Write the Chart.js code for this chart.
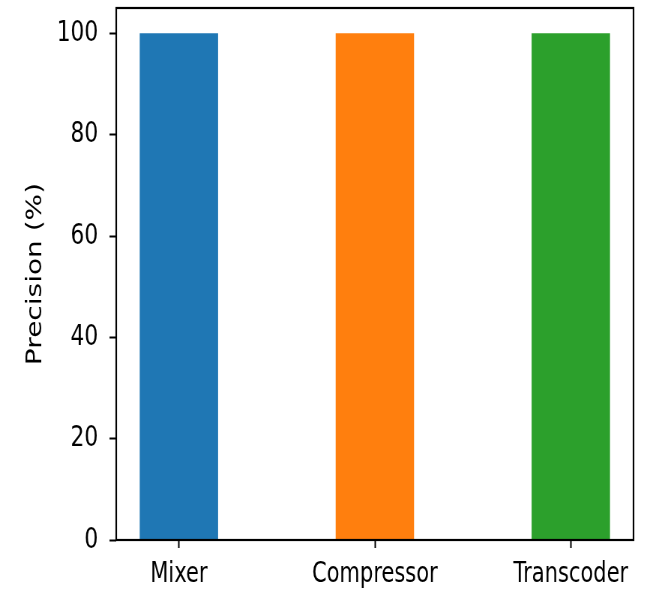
<!DOCTYPE html>
<html>
<head>
<meta charset="utf-8">
<script src="https://cdn.jsdelivr.net/npm/chart.js@4"></script>
<style>
  html, body { margin: 0; padding: 0; background: #fff; overflow: hidden; }
  #wrap { width: 863px; height: 590px; transform: scaleX(0.7497); transform-origin: 0 0; }
</style>
</head>
<body>
<div id="wrap"><canvas id="c" width="863" height="590"></canvas></div>
<script>
const categories = ["Mixer", "Compressor", "Transcoder"];
const precision = [100, 100, 100];
const barColors = ["#1f77b4", "#ff7f0e", "#2ca02c"];
const yTicks = [0, 20, 40, 60, 80, 100];
const yLabel = "Precision (%)";

const frame = {
  id: 'frame',
  afterDraw(chart) {
    const a = chart.chartArea, ctx = chart.ctx;
    ctx.save();
    ctx.strokeStyle = '#000';
    ctx.lineWidth = 2.2;
    ctx.strokeRect(a.left, a.top, a.right - a.left, a.bottom - a.top);
    ctx.restore();
  }
};

new Chart(document.getElementById('c'), {
  type: 'bar',
  data: {
    datasets: [{
      data: categories.map((c, i) => ({ x: i, y: precision[i] })),
      backgroundColor: barColors,
      borderWidth: 0,
      barPercentage: 0.4,
      categoryPercentage: 1.0
    }]
  },
  options: {
    responsive: false,
    animation: false,
    devicePixelRatio: 1,
    layout: { padding: { left: 0, right: 18, top: 8, bottom: 0 } },
    plugins: { legend: { display: false }, tooltip: { enabled: false } },
    scales: {
      x: {
        type: 'linear',
        min: -0.32,
        max: 2.32,
        offset: false,
        afterBuildTicks(s) { s.ticks = categories.map((c, i) => ({ value: i })); },
        afterFit(s) { s.height = 50; s.paddingLeft = 0; s.paddingRight = 0; },
        grid: { offset: false, drawOnChartArea: false, drawTicks: true, tickLength: 8, tickColor: '#000', tickWidth: 2 },
        border: { display: false },
        ticks: {
          callback: (v) => categories[v] ?? '',
          color: '#000',
          padding: 10,
          maxRotation: 0,
          autoSkip: false,
          font: { family: 'DejaVu Sans', size: 28 }
        }
      },
      y: {
        min: 0,
        max: 105,
        afterBuildTicks(s) { s.ticks = yTicks.map(v => ({ value: v })); },
        afterFit(s) { s.width = 155; s.paddingTop = 0; s.paddingBottom = 0; },
        grid: { drawOnChartArea: false, drawTicks: true, tickLength: 9, tickColor: '#000', tickWidth: 2 },
        border: { display: false },
        ticks: {
          color: '#000',
          padding: 15,
          font: { family: 'DejaVu Sans', size: 29 }
        },
        title: {
          display: true,
          text: yLabel,
          color: '#000',
          padding: { top: 31, bottom: 0 },
          font: { family: 'DejaVu Sans', size: 28 }
        }
      }
    }
  },
  plugins: [frame]
});
</script>
</body>
</html>
